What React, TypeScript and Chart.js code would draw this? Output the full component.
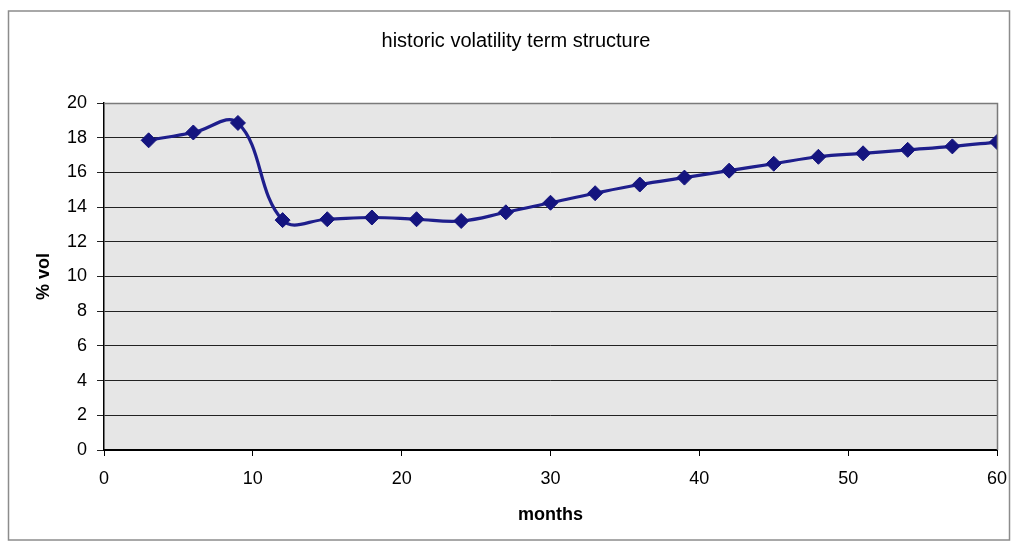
import React, { useEffect, useRef } from "react";
import { Chart, registerables } from "chart.js";

Chart.register(...registerables);

// maturity in months and the historic volatility (%) at each maturity
const months = [3, 6, 9, 12, 15, 18, 21, 24, 27, 30, 33, 36, 39, 42, 45, 48, 51, 54, 57, 60];
const vol = [17.85, 18.3, 18.85, 13.25, 13.3, 13.4, 13.3, 13.2, 13.7, 14.25, 14.8, 15.3, 15.7, 16.1, 16.5, 16.9, 17.1, 17.3, 17.5, 17.75];

const xTicks = { min: 0, max: 60, step: 10 };
const yTicks = { min: 0, max: 20, step: 2 };

const chartTitle = "historic volatility term structure";

const FONT = "'Liberation Sans', Arial, sans-serif";

// plot background, top/right plot frame, outer chart frame and the heading
const framePlugin = {
  id: "frames",
  beforeDraw(chart: Chart) {
    const { ctx, chartArea: a, width, height } = chart;
    ctx.save();
    ctx.fillStyle = "#ffffff";
    ctx.fillRect(0, 0, width, height);
    ctx.fillStyle = "#e6e6e6";
    ctx.fillRect(a.left, a.top, a.right - a.left, a.bottom - a.top);
    ctx.restore();
  },
  afterDraw(chart: Chart) {
    const { ctx, chartArea: a, width, height } = chart;
    ctx.save();
    ctx.strokeStyle = "#7a7a7a";
    ctx.lineWidth = 1.5;
    ctx.beginPath();
    ctx.moveTo(a.left, a.top + 0.5);
    ctx.lineTo(a.right + 0.5, a.top + 0.5);
    ctx.lineTo(a.right + 0.5, a.bottom);
    ctx.stroke();
    ctx.strokeStyle = "#8c8c8c";
    ctx.lineWidth = 1.5;
    ctx.strokeRect(8.5, 11, width - 19, height - 17);

    ctx.fillStyle = "#000";
    ctx.font = `20px ${FONT}`;
    ctx.textAlign = "center";
    ctx.textBaseline = "middle";
    ctx.fillText(chartTitle, 516, 41);
    ctx.restore();
  },
};

export default function App() {
  const ref = useRef<HTMLCanvasElement | null>(null);

  useEffect(() => {
    document.body.style.margin = "0";
    const canvas = ref.current;
    if (!canvas) return;
    const chart = new Chart(canvas, {
      type: "line",
      data: {
        datasets: [
          {
            data: months.map((m, i) => ({ x: m, y: vol[i] })),
            borderColor: "#1e1e8c",
            backgroundColor: "#14147f",
            borderWidth: 3.2,
            pointStyle: "rectRot",
            pointRadius: 7.5,
            pointBorderWidth: 1,
            pointBorderColor: "#14147f",
            tension: 0.4,
            fill: false,
          },
        ],
      },
      options: {
        responsive: false,
        animation: false,
        layout: { padding: { left: 0, right: 23, top: 103, bottom: 0 } },
        plugins: {
          legend: { display: false },
          tooltip: { enabled: false },
          title: { display: false },
        },
        scales: {
          x: {
            type: "linear",
            min: xTicks.min,
            max: xTicks.max,
            ticks: {
              stepSize: xTicks.step,
              color: "#000",
              font: { family: FONT, size: 18 },
              padding: 12,
              maxRotation: 0,
            },
            grid: {
              drawOnChartArea: false,
              drawTicks: true,
              tickLength: 6,
              color: "#000",
            },
            border: { display: true, color: "#000", width: 2 },
            title: {
              display: true,
              text: "months",
              color: "#000",
              font: { family: FONT, size: 18, weight: "bold" },
              padding: { top: 0, bottom: 20 },
            },
            afterFit(scale: any) {
              scale.height = 96;
            },
          },
          y: {
            type: "linear",
            min: yTicks.min,
            max: yTicks.max,
            ticks: {
              stepSize: yTicks.step,
              color: "#000",
              font: { family: FONT, size: 18 },
              padding: 10,
            },
            grid: {
              drawOnChartArea: true,
              drawTicks: true,
              tickLength: 7,
              color: "#222",
              lineWidth: 1,
            },
            border: { display: true, color: "#000", width: 1.5 },
            title: {
              display: true,
              text: "% vol",
              color: "#000",
              font: { family: FONT, size: 18, weight: "bold" },
              padding: { top: 33, bottom: 0 },
            },
            afterFit(scale: any) {
              scale.width = 104;
            },
          },
        },
      },
      plugins: [framePlugin],
    });
    return () => chart.destroy();
  }, []);

  return (
    <div style={{ width: 1020, height: 546 }}>
      <canvas ref={ref} width={1020} height={546} />
    </div>
  );
}
